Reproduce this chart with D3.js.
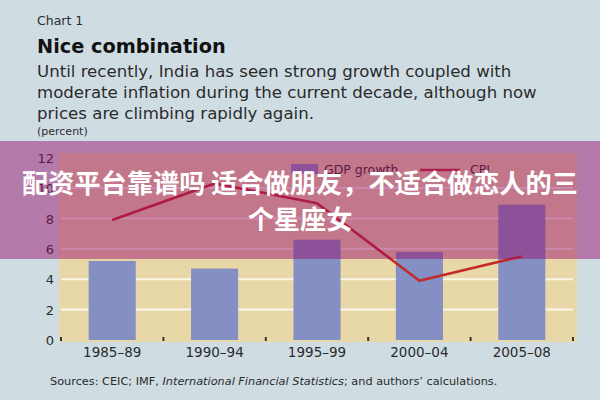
<!DOCTYPE html>
<html><head><meta charset="utf-8">
<script src="https://cdn.jsdelivr.net/npm/d3@7"></script>
<style>
html,body{margin:0;padding:0;background:#cfdde3;}
svg{display:block;}
</style></head>
<body>
<svg id="c" width="600" height="400"></svg>
<script>
const categories = ["1985–89","1990–94","1995–99","2000–04","2005–08"];
const gdpGrowth = [5.2, 4.7, 6.6, 5.8, 8.9];
const cpi = [7.9, 10.3, 9.0, 3.9, 5.5];
const yTicks = [0, 2, 4, 6, 8, 10, 12];
const gridTicks = [2, 4, 6, 8, 10];
const seriesNames = ["GDP growth", "CPI"];

const svg = d3.select("#c");
svg.append("rect").attr("width",600).attr("height",400).attr("fill","#cfdde3");

const font = "'DejaVu Sans', Verdana, sans-serif";
const txt = "#2b2b2b";

// titles
svg.append("text").attr("x",37).attr("y",25).attr("font-family",font).attr("font-size",12.5).attr("fill",txt).text("Chart 1");
svg.append("text").attr("x",37).attr("y",53).attr("font-family",font).attr("font-size",19.3).attr("font-weight","bold").attr("fill","#111").text("Nice combination");
const sub = ["Until recently, India has seen strong growth coupled with",
             "moderate inflation during the current decade, although now",
             "prices are climbing rapidly again."];
sub.forEach((s,i)=>svg.append("text").attr("x",37).attr("y",77+i*21).attr("font-family",font).attr("font-size",16.6).attr("fill",txt).text(s));
svg.append("text").attr("x",37).attr("y",135).attr("font-family",font).attr("font-size",11).attr("fill",txt).text("(percent)");

// scales
const x = d3.scaleBand().domain(categories).range([61,573]).paddingInner(0.54).paddingOuter(0.27);
const y = d3.scaleLinear().domain([0,12]).range([340,157.6]);

// plot background
svg.append("rect").attr("x",59).attr("y",153).attr("width",518).attr("height",189).attr("fill","#e8d8a8");

// gridlines
svg.append("g").selectAll("line").data(gridTicks).join("line")
  .attr("x1",61).attr("x2",573).attr("y1",d=>y(d)).attr("y2",d=>y(d))
  .attr("stroke","#fbf6ea").attr("stroke-width",2);

// bars
svg.append("g").selectAll("rect").data(gdpGrowth).join("rect")
  .attr("x",(d,i)=>x(categories[i])).attr("width",x.bandwidth())
  .attr("y",d=>y(d)).attr("height",d=>y(0)-y(d)).attr("fill","#8490c4");

// boundary ticks
const step = x.step();
const bounds = d3.range(categories.length+1).map(i=>x(categories[0]) - x.paddingOuter()*step + i*step);
svg.append("g").selectAll("rect").data(bounds).join("rect")
  .attr("x",d=>d-1).attr("y",y(0)-3).attr("width",2).attr("height",4).attr("fill","#333");

// CPI line
const line = d3.line().x((d,i)=>x(categories[i])+x.bandwidth()/2).y(d=>y(d));
svg.append("path").datum(cpi).attr("d",line).attr("fill","none").attr("stroke","#c42a2a").attr("stroke-width",2.6).attr("stroke-linejoin","round");

// y axis
const ya = svg.append("g").attr("transform","translate(54,0)").call(d3.axisLeft(y).tickValues(yTicks).tickSize(0).tickPadding(0));
ya.select(".domain").remove();
ya.selectAll("text").attr("font-family",font).attr("font-size",13).attr("fill",txt).attr("dy","0.36em");

// x axis
const xa = svg.append("g").attr("transform","translate(0,345)").call(d3.axisBottom(x).tickSize(0).tickPadding(0));
xa.select(".domain").remove();
xa.selectAll("text").attr("font-family",font).attr("font-size",13.5).attr("fill",txt).attr("dy","0.9em");

// legend
svg.append("rect").attr("x",291).attr("y",164).attr("width",27).attr("height",10).attr("fill","#8490c4");
svg.append("text").attr("x",324).attr("y",174).attr("font-family",font).attr("font-size",12.5).attr("fill",txt).text(seriesNames[0]);
svg.append("line").attr("x1",420).attr("x2",460).attr("y1",170).attr("y2",170).attr("stroke","#c42a2a").attr("stroke-width",2.6);
svg.append("text").attr("x",470).attr("y",174).attr("font-family",font).attr("font-size",12.5).attr("fill",txt).text(seriesNames[1]);

// sources
const src = svg.append("text").attr("x",50).attr("y",385).attr("font-family",font).attr("font-size",11.3).attr("fill",txt);
src.append("tspan").text("Sources: CEIC; IMF, ");
src.append("tspan").attr("font-style","italic").text("International Financial Statistics");
src.append("tspan").text("; and authors’ calculations.");

// overlay banner
svg.append("rect").attr("x",0).attr("y",141).attr("width",600).attr("height",118).attr("fill","rgba(150,10,105,0.47)");
const cjk = "'Noto Sans CJK SC', sans-serif";
svg.append("text").attr("x",300).attr("y",193).attr("text-anchor","middle").attr("font-family",cjk).attr("font-size",26.2).attr("font-weight","bold").attr("fill","#fff").text("配资平台靠谱吗 适合做朋友，不适合做恋人的三");
svg.append("text").attr("x",300).attr("y",229).attr("text-anchor","middle").attr("font-family",cjk).attr("font-size",26.2).attr("font-weight","bold").attr("fill","#fff").text("个星座女");
</script>
</body></html>
